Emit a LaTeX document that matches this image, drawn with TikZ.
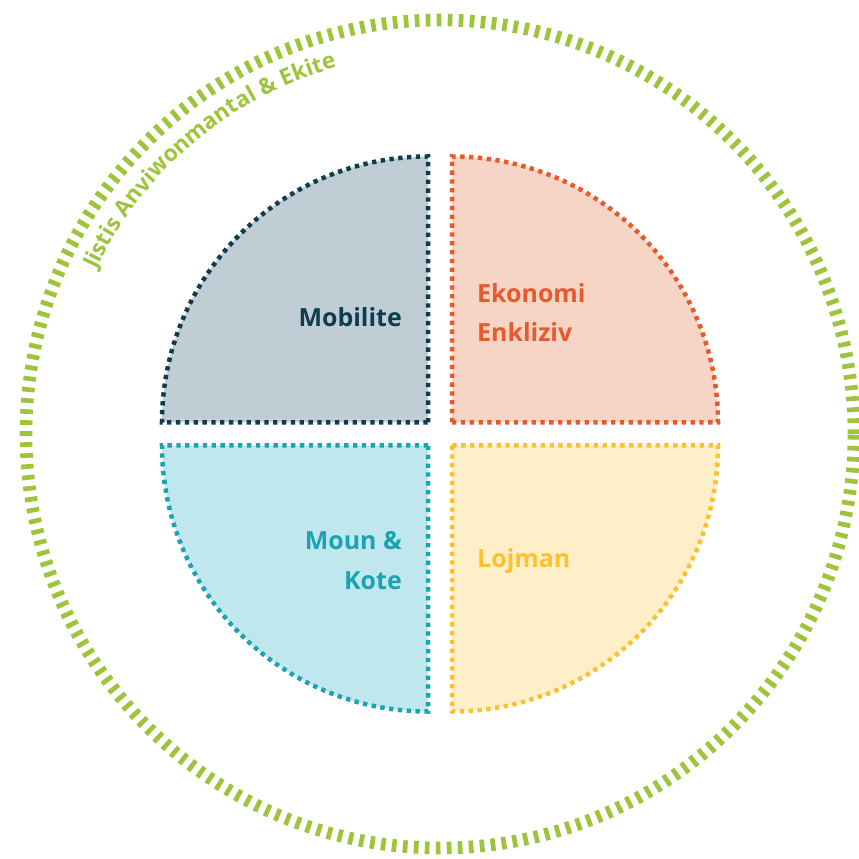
\documentclass[tikz,border=0pt]{standalone}
\usepackage{fontspec}
\setmainfont{Open Sans}
\usetikzlibrary{decorations.text}
\definecolor{ringgreen}{HTML}{9DC43B}
\definecolor{mobline}{HTML}{0E3D50}
\definecolor{mobfill}{HTML}{C0CDD5}
\definecolor{ekoline}{HTML}{E65A2B}
\definecolor{ekofill}{HTML}{F6D4C6}
\definecolor{mounline}{HTML}{19A3B3}
\definecolor{mounfill}{HTML}{C0E7EE}
\definecolor{lojline}{HTML}{FCC12D}
\definecolor{lojfill}{HTML}{FEEFC9}
\tikzset{
	quarter/.style = {line width = 1.35mm, dash pattern = on 1.3mm off 1.35mm},
	label/.style = {font = \bfseries\fontsize{21.3}{33.3}\selectfont, inner sep = 0pt}
}
\begin{document}
\begin{tikzpicture}[x = 0.3mm, y = 0.3mm]
		\useasboundingbox (-440, -425) rectangle (419, 434);
		\draw[ringgreen, line width = 3.8mm, dash pattern = on 1.4mm off 1.9mm] (0, 0) circle[radius = 414];
		\path[decorate, decoration = {text along path, text = {|\color{ringgreen}\bfseries\fontsize{19.3}{19.3}\selectfont|Jistis Anviwonmantal {\&} Ekite}}] (154.5:381) arc[start angle = 154.5, end angle = 95, radius = 381];
		\foreach \s/\dx/\dy/\fc/\lc in {0/12/11.5/ekofill/ekoline, 90/-12/11.5/mobfill/mobline, 180/-12/-11.5/mounfill/mounline, 270/12/-11.5/lojfill/lojline}{
			\draw[quarter, fill = \fc, draw = \lc, shift = {(\dx, \dy)}] (0, 0) -- (\s:266) arc[start angle = \s, end angle = \s + 90, radius = 266] -- cycle;
		}
		\node[label, mobline, anchor = base east] (mobilite) at (-38, 107) {Mobilite};
		\node[label, ekoline, anchor = base west, align = left] (ekonomi) at (37, 92) {Ekonomi\\Enkliziv};
		\node[label, mounline, anchor = base east, align = right] (moun) at (-38, -155) {Moun \&\\Kote};
		\node[label, lojline, anchor = base west] (lojman) at (37, -134) {Lojman};
	\end{tikzpicture}
\end{document}
